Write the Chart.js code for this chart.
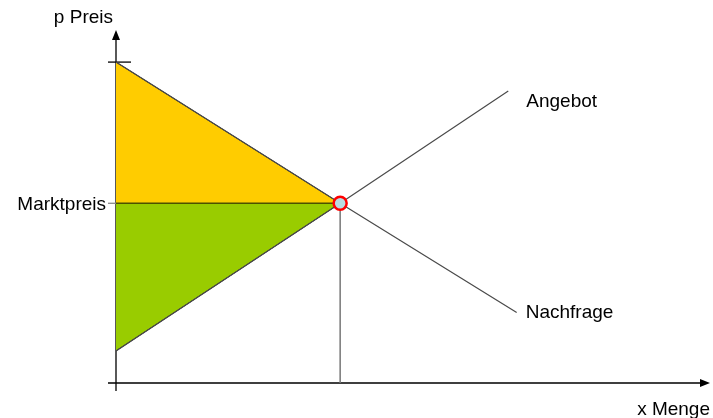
<!DOCTYPE html>
<html>
<head>
<meta charset="utf-8">
<script src="https://cdn.jsdelivr.net/npm/chart.js@4"></script>
<style>
  html, body { margin: 0; padding: 0; background: #fff; }
  #wrap { width: 713px; height: 418px; }
</style>
</head>
<body>
<div id="wrap"><canvas id="market"></canvas></div>
<script>
// data (Menge / Preis in arbitrary units)
const demandX = [0, 4, 7.15];
const demandY = [10, 5.6, 2.2];
const supplyX = [0, 4, 7];
const supplyY = [1.0, 5.6, 9.1];
const equilibriumX = [4];
const equilibriumY = [5.6];
const seriesNames = ['Angebot', 'Nachfrage'];
const axisTitles = ['p Preis', 'x Menge'];
const priceTickValues = [10, 5.6];
const priceTickLabels = ['', 'Marktpreis'];

const toPts = (xs, ys) => xs.map((x, i) => ({ x: x, y: ys[i] }));
const marketLine = toPts([0, equilibriumX[0]], [equilibriumY[0], equilibriumY[0]]);

// axes with arrows, ticks and the text labels
const axesPlugin = {
  id: 'axes',
  beforeDatasetsDraw(chart) {
    const ctx = chart.ctx, xs = chart.scales.x, ys = chart.scales.y;
    const x0 = xs.getPixelForValue(0), y0 = ys.getPixelForValue(0);
    const xEnd = xs.right, yEnd = ys.top;
    ctx.save();
    ctx.strokeStyle = '#000';
    ctx.fillStyle = '#000';
    ctx.lineWidth = 1.3;
    ctx.beginPath();
    ctx.moveTo(x0, y0 + 8); ctx.lineTo(x0, yEnd + 8);
    ctx.moveTo(x0 - 8, y0); ctx.lineTo(xEnd - 8, y0);
    ctx.stroke();
    // arrow heads
    ctx.beginPath();
    ctx.moveTo(x0, yEnd); ctx.lineTo(x0 - 4, yEnd + 10); ctx.lineTo(x0 + 4, yEnd + 10); ctx.closePath();
    ctx.moveTo(xEnd, y0); ctx.lineTo(xEnd - 10, y0 - 4); ctx.lineTo(xEnd - 10, y0 + 4); ctx.closePath();
    ctx.fill();
    // y ticks
    priceTickValues.forEach((v, i) => {
      const py = ys.getPixelForValue(v);
      ctx.beginPath();
      if (priceTickLabels[i] === '') {
        ctx.strokeStyle = '#000';
        ctx.moveTo(x0 - 8, py); ctx.lineTo(x0 + 15, py);
      } else {
        ctx.strokeStyle = '#888';
        ctx.moveTo(x0 - 8, py); ctx.lineTo(x0, py);
      }
      ctx.stroke();
    });
    ctx.restore();
  },
  afterDatasetsDraw(chart) {
    const ctx = chart.ctx, xs = chart.scales.x, ys = chart.scales.y;
    const x0 = xs.getPixelForValue(0), y0 = ys.getPixelForValue(0);
    ctx.save();
    ctx.font = '19px "Liberation Sans", Arial, sans-serif';
    ctx.fillStyle = '#000';
    ctx.textBaseline = 'alphabetic';
    // axis titles
    ctx.textAlign = 'right';
    ctx.fillText(axisTitles[0], x0 - 3, ys.top - 7);
    ctx.fillText(axisTitles[1], xs.right, y0 + 32);
    // price tick labels
    priceTickValues.forEach((v, i) => {
      if (priceTickLabels[i]) ctx.fillText(priceTickLabels[i], x0 - 10, ys.getPixelForValue(v) + 7);
    });
    // series names at line ends
    ctx.textAlign = 'left';
    const sEnd = supplyX.length - 1, dEnd = demandX.length - 1;
    ctx.fillText(seriesNames[0], xs.getPixelForValue(supplyX[sEnd]) + 18, ys.getPixelForValue(supplyY[sEnd]) + 16);
    ctx.fillText(seriesNames[1], xs.getPixelForValue(demandX[dEnd]) + 9, ys.getPixelForValue(demandY[dEnd]) + 6);
    ctx.restore();
  }
};

const data = {
  datasets: [
    {
      label: 'Gleichgewicht',
      data: toPts(equilibriumX, equilibriumY),
      showLine: false,
      pointRadius: 6.5,
      pointBorderWidth: 2.5,
      pointBorderColor: '#ff0000',
      pointBackgroundColor: '#b8dde2',
      order: 0
    },
    {
      label: seriesNames[0],
      data: toPts(supplyX, supplyY),
      showLine: true,
      borderColor: '#4a4a4a',
      borderWidth: 1.2,
      pointRadius: 0,
      fill: false,
      order: 1
    },
    {
      label: seriesNames[1],
      data: toPts(demandX, demandY),
      showLine: true,
      borderColor: '#4a4a4a',
      borderWidth: 1.2,
      pointRadius: 0,
      fill: false,
      order: 1
    },
    {
      label: 'Lot',
      data: toPts([equilibriumX[0], equilibriumX[0]], [equilibriumY[0], 0]),
      showLine: true,
      borderColor: '#777',
      borderWidth: 1.5,
      pointRadius: 0,
      fill: false,
      order: 2
    },
    {
      label: 'Marktpreis',
      data: marketLine,
      showLine: true,
      borderColor: '#4d5200',
      borderWidth: 1.5,
      pointRadius: 0,
      fill: false,
      order: 2
    },
    {
      label: 'Konsumentenrente',
      data: toPts(demandX.slice(0, 2), demandY.slice(0, 2)),
      showLine: true,
      borderColor: '#222',
      borderWidth: 1,
      backgroundColor: '#ffcc00',
      pointRadius: 0,
      fill: 4,
      order: 3
    },
    {
      label: 'Produzentenrente',
      data: toPts(supplyX.slice(0, 2), supplyY.slice(0, 2)),
      showLine: true,
      borderColor: '#222',
      borderWidth: 1,
      backgroundColor: '#99cc00',
      pointRadius: 0,
      fill: 4,
      order: 3
    }
  ]
};

new Chart(document.getElementById('market'), {
  type: 'scatter',
  data: data,
  options: {
    responsive: true,
    maintainAspectRatio: false,
    animation: false,
    layout: { autoPadding: false, padding: { left: 116, right: 3, top: 30, bottom: 35 } },
    scales: {
      x: { type: 'linear', min: 0, max: 10.6, display: false },
      y: { type: 'linear', min: 0, max: 11, display: false }
    },
    plugins: {
      legend: { display: false },
      tooltip: { enabled: false }
    }
  },
  plugins: [axesPlugin]
});
</script>
</body>
</html>
